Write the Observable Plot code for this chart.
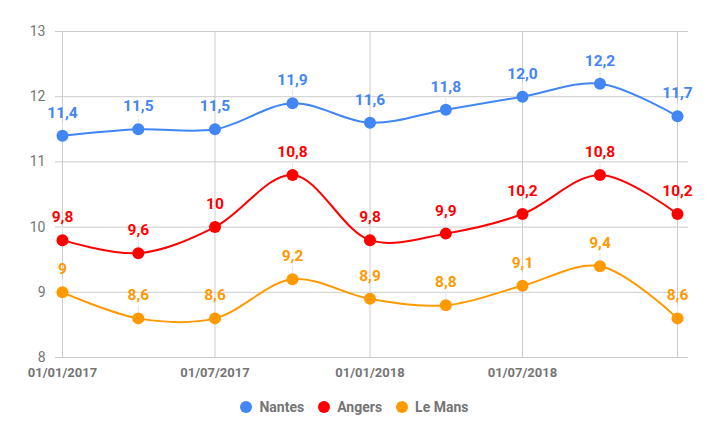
<!DOCTYPE html>
<html>
<head>
<meta charset="utf-8">
<script src="https://cdn.jsdelivr.net/npm/d3@7"></script>
<script src="https://cdn.jsdelivr.net/npm/@observablehq/plot@0.6"></script>
<style>
  html, body { margin: 0; padding: 0; background: #fff; }
  #legend { display: flex; justify-content: center; align-items: center; height: 34px; font-family: Roboto, sans-serif; font-weight: bold; font-size: 14px; color: #757575; }
  .item { display: flex; align-items: center; margin: 0 7px; }
  .sw { width: 12px; height: 12px; border-radius: 50%; margin-right: 7px; }
</style>
</head>
<body>
<div id="chart"></div>
<div id="legend"></div>
<script>
const dates = ["2017-01-01","2017-04-01","2017-07-01","2017-10-01","2018-01-01","2018-04-01","2018-07-01","2018-10-01","2019-01-01"];
const cities = ["Nantes", "Angers", "Le Mans"];
const colors = ["#4285F4", "#FF0000", "#FF9900"];
const nantes = [11.4, 11.5, 11.5, 11.9, 11.6, 11.8, 12.0, 12.2, 11.7];
const angers = [9.8, 9.6, 10, 10.8, 9.8, 9.9, 10.2, 10.8, 10.2];
const leMans = [9, 8.6, 8.6, 9.2, 8.9, 8.8, 9.1, 9.4, 8.6];
const nantesLabels = ["11,4","11,5","11,5","11,9","11,6","11,8","12,0","12,2","11,7"];
const angersLabels = ["9,8","9,6","10","10,8","9,8","9,9","10,2","10,8","10,2"];
const leMansLabels = ["9","8,6","8,6","9,2","8,9","8,8","9,1","9,4","8,6"];
const xTickDates = ["2017-01-01","2017-07-01","2018-01-01","2018-07-01","2019-01-01"];
const xLabelDates = ["2017-01-01","2017-07-01","2018-01-01","2018-07-01"];
const yTicks = [8, 9, 10, 11, 12, 13];

const series = [nantes, angers, leMans];
const labels = [nantesLabels, angersLabels, leMansLabels];
const data = [];
cities.forEach((c, k) => {
  dates.forEach((d, i) => {
    data.push({city: c, date: new Date(d), value: series[k][i], label: labels[k][i]});
  });
});
const parse = s => new Date(s);

const chart = Plot.plot({
  width: 709,
  height: 390,
  marginLeft: 55,
  marginRight: 21,
  marginTop: 31,
  marginBottom: 33,
  style: {fontFamily: "Roboto, sans-serif", background: "white"},
  x: {type: "utc", domain: [parse(dates[0]), parse(dates[dates.length - 1])], insetLeft: 7, insetRight: 11},
  y: {domain: [8, 13]},
  color: {domain: cities, range: colors},
  marks: [
    Plot.ruleY(yTicks, {stroke: "#cccccc"}),
    Plot.ruleX(xTickDates.map(parse), {stroke: "#cccccc"}),
    Plot.axisY({ticks: yTicks, tickFormat: d => String(d), tickSize: 0, tickPadding: 10, fontSize: 14, color: "#757575", label: null}),
    Plot.axisX({ticks: xLabelDates.map(parse), tickFormat: d3.utcFormat("%d/%m/%Y"), tickSize: 0, tickPadding: 10, fontSize: 13, fontWeight: "bold", color: "#757575", label: null}),
    Plot.ruleX(data, {x: "date", y1: "value", y2: "value", insetTop: -13, insetBottom: 0, stroke: "#e6e6e6"}),
    Plot.line(data, {x: "date", y: "value", z: "city", stroke: "city", curve: "catmull-rom", strokeWidth: 2}),
    Plot.dot(data, {x: "date", y: "value", fill: "city", r: 6}),
    Plot.text(data, {x: "date", y: "value", text: "label", fill: "city", dy: -23, fontSize: 15.5, fontWeight: "bold"})
  ]
});
document.getElementById("chart").append(chart);

const legend = document.getElementById("legend");
cities.forEach((c, k) => {
  const item = document.createElement("div");
  item.className = "item";
  const sw = document.createElement("span");
  sw.className = "sw";
  sw.style.background = colors[k];
  const t = document.createElement("span");
  t.textContent = c;
  item.append(sw, t);
  legend.append(item);
});
</script>
</body>
</html>
